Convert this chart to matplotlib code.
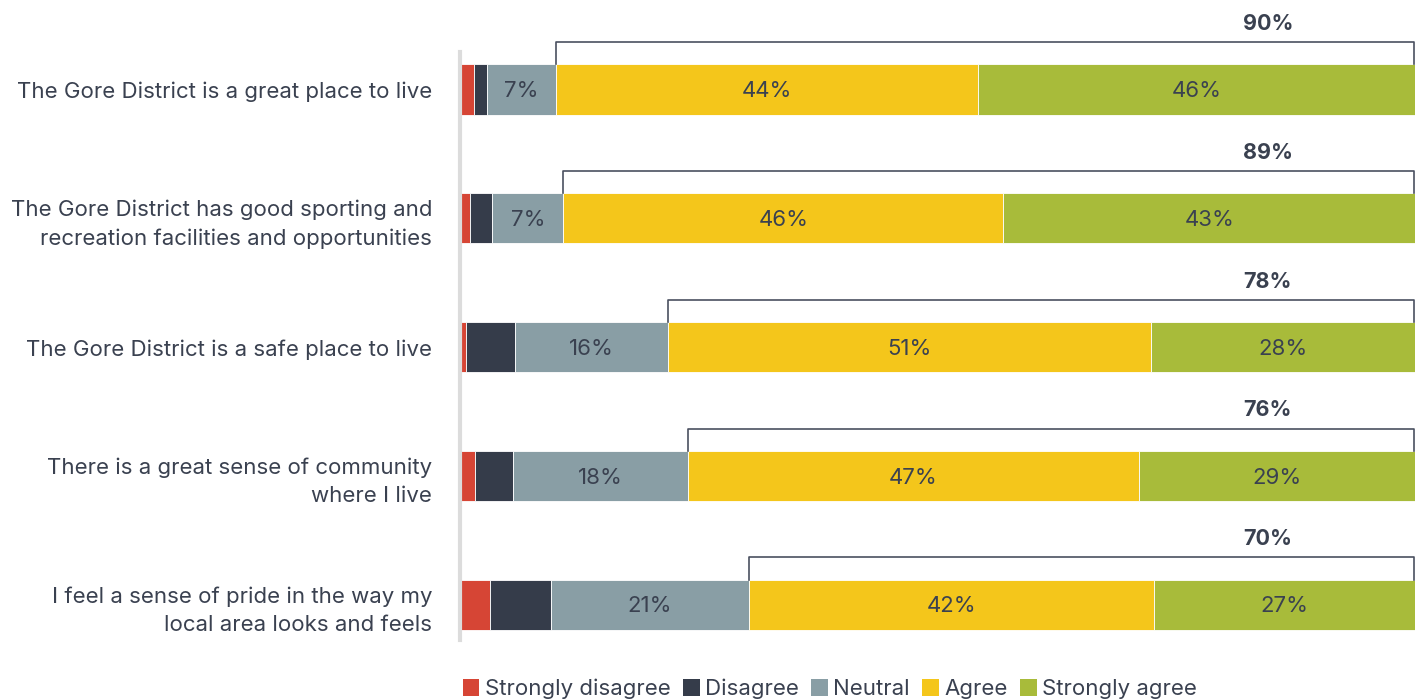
import numpy as np
import matplotlib.pyplot as plt
from matplotlib.patches import Patch

plt.rcParams['font.family'] = ['Inter', 'DejaVu Sans']

statements = [
    "The Gore District is a great place to live",
    "The Gore District has good sporting and\nrecreation facilities and opportunities",
    "The Gore District is a safe place to live",
    "There is a great sense of community\nwhere I live",
    "I feel a sense of pride in the way my\nlocal area looks and feels",
]
categories = ["Strongly disagree", "Disagree", "Neutral", "Agree", "Strongly agree"]

strongly_disagree = [1.5, 1.0, 0.6, 1.6, 3.1]
disagree = [1.3, 2.4, 5.2, 3.9, 6.4]
neutral = [7.3, 7.4, 16.0, 18.4, 20.8]
agree = [44.1, 46.1, 50.6, 47.2, 42.4]
strongly_agree = [45.8, 43.1, 27.6, 28.9, 27.3]

colors = ["#d64535", "#353c4a", "#899ea5", "#f4c61b", "#a8bb3a"]
txt = "#3a4150"

series = [strongly_disagree, disagree, neutral, agree, strongly_agree]
labelled = [False, False, True, True, True]

fig = plt.figure(figsize=(14.23, 7), dpi=100)
ax = fig.add_axes([460 / 1423, 1 - 640 / 700, 955 / 1423, 588 / 700])

y = np.arange(len(statements))
h = 0.39
left = np.zeros(len(statements))
for vals, col, lab in zip(series, colors, labelled):
    vals = np.array(vals)
    ax.barh(y, vals, left=left, height=h, color=col, edgecolor="white", linewidth=0.6)
    if lab:
        for yi, l, v in zip(y, left, vals):
            ax.text(l + v / 2, yi + 0.01, f"{v:.0f}%", ha="center", va="center",
                    fontsize=16, color=txt)
    left += vals

# bracket over agree + strongly agree with the net total
agree_start = np.array(strongly_disagree) + np.array(disagree) + np.array(neutral)
for yi, x0, a, sa in zip(y, agree_start, agree, strongly_agree):
    top = yi - h / 2
    ax.plot([x0, x0, 99.9, 99.9], [top, yi - 0.37, yi - 0.37, top],
            color="#4a5060", lw=1.2, clip_on=False)
    ax.text(84.6, yi - 0.51, f"{a + sa:.0f}%", ha="center", va="center",
            fontsize=15.5, fontweight="bold", color=txt)

ax.set_xlim(0, 100)
ax.set_ylim(4.27, -0.29)
ax.set_yticks(y)
ax.set_yticklabels(statements, fontsize=16, color=txt, linespacing=1.5)
ax.tick_params(axis="y", length=0, pad=20)
ax.set_xticks([])
for s in ["top", "right", "bottom"]:
    ax.spines[s].set_visible(False)
ax.spines["left"].set_color("#dcdcdc")
ax.spines["left"].set_linewidth(3)

handles = [Patch(facecolor=c, label=n) for c, n in zip(colors, categories)]
fig.legend(handles=handles, loc="center", bbox_to_anchor=(830 / 1423, 1 - 689 / 700),
           ncol=5, frameon=False, fontsize=16, handlelength=0.75, handleheight=0.75,
           handletextpad=0.25, columnspacing=0.55, labelcolor=txt)

fig.savefig("out.png", dpi=100)
